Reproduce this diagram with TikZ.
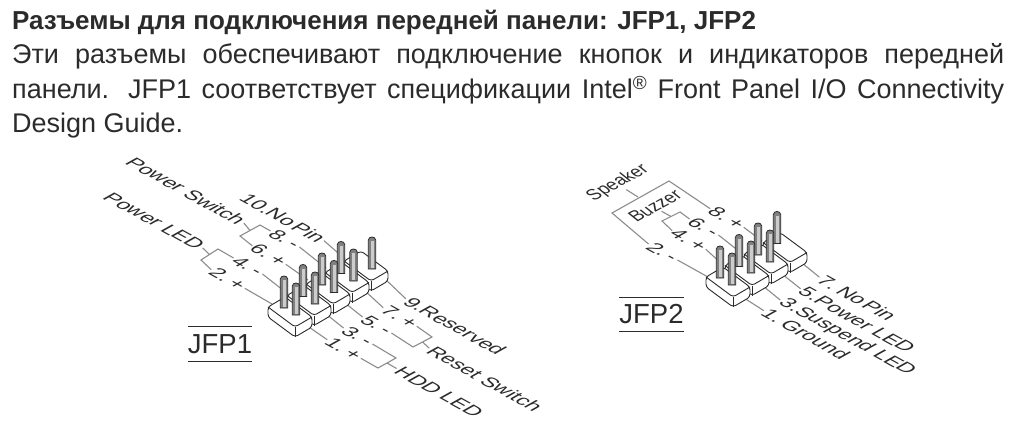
\documentclass[tikz,border=0pt]{standalone}
\usepackage{fontspec}
\setmainfont{Liberation Sans}
\usepackage{tikz}
\definecolor{inkdark}{HTML}{2B2B2B}
\definecolor{leadgray}{HTML}{8C8C8C}
\tikzset{
  lead/.style={draw=leadgray,line width=1.1pt},
  isodown/.style={cm={1.03,-0.57,0.93,0.52,(0,0)},inner sep=1.5pt,text=inkdark,font=\fontsize{18}{18}\selectfont},
  isoup/.style={cm={0.835,0.46,-0.82,0.66,(0,0)},inner sep=1.5pt,text=inkdark,font=\fontsize{18}{18}\selectfont},
  pinlabel/.style={isodown,execute at begin node={\spaceskip=2pt}},
  jfpname/.style={inner sep=0pt,minimum height=34pt,text=inkdark,font=\fontsize{27.5}{27.5}\selectfont},
}
% one housing of the header, origin at the foot of its rear pin
\newcommand{\hdrblock}[2]{
  \begin{scope}[shift={(#1,#2)}]
    \draw[inkdark,line width=.9pt,fill=white,rounded corners=3pt] (-16,-1) -- (-16,9) -- (11,29) -- (28,19) -- (28,9) -- (1,-11) -- cycle;
    \draw[inkdark,line width=.9pt,rounded corners=3pt] (-16,-1) -- (11,19) -- (28,9);
    \draw[inkdark,line width=.9pt] (11,19) -- (11,29);
  \end{scope}
}
\newcommand{\hdrpin}[2]{
  \begin{scope}[shift={(#1,#2)}]
    \draw[inkdark,line width=.8pt,fill=black!50] (-3.7,0) -- (-3.7,-29) .. controls (-3.5,-33) and (3.5,-33) .. (3.7,-29) -- (3.7,0) -- cycle;
    \draw[black!20,line width=3pt] (0,-1) -- (0,-28);
  \end{scope}
}
\begin{document}
\begin{tikzpicture}[x=1pt,y=-1pt]
\useasboundingbox (0,0) rectangle (1024,428);
\node[anchor=north west,inner sep=0pt,text=inkdark,font=\fontsize{26}{26}\selectfont\bfseries] (title) at (12,10) {Разъемы для подключения передней панели: JFP1, JFP2};
\node[anchor=north west,inner sep=0pt,text width=992pt,align=justify,text=inkdark,font=\fontsize{27}{34.5}\selectfont] (body) at (12,43.5) {Эти разъемы обеспечивают подключение кнопок и индикаторов передней\linebreak панели. JFP1 соответствует спецификации Intel\textsuperscript{®} Front Panel I/O Connectivity\linebreak Design Guide.};

% JFP1 labels
\node[isodown] (lPwrSw) at (186,191) {Power Switch};
\node[isodown] (lPwrLed) at (154,221) {Power LED};
\node[pinlabel] (lTen) at (283,218) {10.No Pin};
\node[pinlabel] (lEight) at (285,239) {8. -};
\node[pinlabel] (lSix) at (269,255) {6. +};
\node[pinlabel] (lFour) at (248,266) {4. -};
\node[pinlabel] (lTwo) at (228,279) {2. +};
\node[isodown] (lNine) at (455,326) {9.Reserved};
\node[pinlabel] (lSeven) at (400,317) {7. +};
\node[pinlabel] (lFive) at (377,325) {5. -};
\node[pinlabel] (lThree) at (358,336) {3. -};
\node[pinlabel] (lOne) at (344,349) {1. +};
\node[isodown] (lReset) at (485,379) {Reset Switch};
\node[isodown] (lHdd) at (439,392) {HDD LED};
\node[jfpname] (jfpA) at (220,344) {JFP1};
\draw[inkdark,line width=1pt] (jfpA.north west) -- (jfpA.north east);
\draw[inkdark,line width=1pt] (jfpA.south west) -- (jfpA.south east);

% JFP1 brackets and leads
\coordinate (swTop) at (260,225);
\coordinate (swLeft) at (240,236);
\coordinate (swMid) at (250,230.5);
\coordinate (ledTop) at (218,249);
\coordinate (ledLeft) at (201,260);
\coordinate (ledMid) at (209.5,254.5);
\coordinate (rsRight) at (432,337);
\coordinate (rsBottom) at (413,347);
\coordinate (rsMid) at (422.5,342);
\coordinate (hdRight) at (396,358);
\coordinate (hdBottom) at (378,368);
\coordinate (hdMid) at (387,363);
\coordinate (pTen) at (345,259);
\coordinate (pEight) at (326,268);
\coordinate (pSix) at (308,280);
\coordinate (pFour) at (288,294);
\coordinate (pTwo) at (272,304);
\coordinate (pNine) at (384,278);
\coordinate (pSeven) at (364,290);
\coordinate (pFive) at (345,303);
\coordinate (pThree) at (326,314);
\coordinate (pOne) at (306,325);
\draw[lead] (lPwrSw.east) -- (swMid);
\draw[lead] (lEight.west) -- (swTop) -- (swLeft) -- (lSix.west);
\draw[lead] (lPwrLed.east) -- (ledMid);
\draw[lead] (lFour.west) -- (ledTop) -- (ledLeft) -- (lTwo.west);
\draw[lead] (lSeven.east) -- (rsRight) -- (rsBottom) -- (lFive.east);
\draw[lead] (rsMid) -- (lReset.west);
\draw[lead] (lThree.east) -- (hdRight) -- (hdBottom) -- (lOne.east);
\draw[lead] (hdMid) -- (lHdd.west);
\draw[lead] (lTen.east) -- (pTen);
\draw[lead] (lEight.east) -- (pEight);
\draw[lead] (lSix.east) -- (pSix);
\draw[lead] (lFour.east) -- (pFour);
\draw[lead] (lTwo.east) -- (pTwo);
\draw[lead] (pNine) -- (lNine.west);
\draw[lead] (pSeven) -- (lSeven.west);
\draw[lead] (pFive) -- (lFive.west);
\draw[lead] (pThree) -- (lThree.west);
\draw[lead] (pOne) -- (lOne.west);

% JFP1 header
\hdrblock{360}{262}
\hdrpin{372}{269}
\hdrblock{341}{273.5}
\hdrpin{341}{273.5}
\hdrpin{353.5}{281}
\hdrblock{322}{285}
\hdrpin{322}{285}
\hdrpin{334}{292.5}
\hdrblock{303}{296.5}
\hdrpin{303}{296.5}
\hdrpin{315}{304}
\hdrblock{284}{308}
\hdrpin{284}{308}
\hdrpin{296}{315}

% JFP2 labels
\node[isoup] (lSpeaker) at (618,183) {Speaker};
\node[isoup] (lBuzzer) at (655,206) {Buzzer};
\node[pinlabel] (mEight) at (727,218) {8. +};
\node[pinlabel] (mSix) at (704,227) {6. -};
\node[pinlabel] (mFour) at (689,240) {4. +};
\node[pinlabel] (mTwo) at (663,252) {2. -};
\node[pinlabel] (mSeven) at (857,298) {7. No Pin};
\node[isodown] (mFive) at (857,320) {5.Power LED};
\node[isodown] (mThree) at (847,337) {3.Suspend LED};
\node[pinlabel] (mOne) at (806,334) {1. Ground};
\node[jfpname] (jfpB) at (651.5,314.5) {JFP2};
\draw[inkdark,line width=1pt] (jfpB.north west) -- (jfpB.north east);
\draw[inkdark,line width=1pt] (jfpB.south west) -- (jfpB.south east);

% JFP2 brackets and leads
\coordinate (spTop) at (669,181);
\coordinate (spLeft) at (612,213);
\coordinate (spMid) at (638,197);
\coordinate (bzTop) at (680,212);
\coordinate (bzLeft) at (662,221);
\coordinate (bzMid) at (671,216.5);
\coordinate (qEight) at (762,241);
\coordinate (qSix) at (740,252);
\coordinate (qFour) at (722,264);
\coordinate (qTwo) at (708,277);
\coordinate (qSeven) at (802,263);
\coordinate (qFive) at (782,274);
\coordinate (qThree) at (763,286);
\coordinate (qOne) at (744,298);
\draw[lead] (lSpeaker.south) -- (spMid);
\draw[lead] (mEight.west) -- (spTop) -- (spLeft) -- (mTwo.west);
\draw[lead] (lBuzzer.south) -- (bzMid);
\draw[lead] (mSix.west) -- (bzTop) -- (bzLeft) -- (mFour.west);
\draw[lead] (mEight.east) -- (qEight);
\draw[lead] (mSix.east) -- (qSix);
\draw[lead] (mFour.east) -- (qFour);
\draw[lead] (mTwo.east) -- (qTwo);
\draw[lead] (qSeven) -- (mSeven.west);
\draw[lead] (qFive) -- (mFive.west);
\draw[lead] (qThree) -- (mThree.west);
\draw[lead] (qOne) -- (mOne.west);

% JFP2 header
\hdrblock{779}{243.5}
\hdrpin{777}{243.5}
\hdrblock{760}{255}
\hdrpin{758}{255}
\hdrpin{770}{262}
\hdrblock{741}{266.5}
\hdrpin{739}{266.5}
\hdrpin{751}{273}
\hdrblock{722}{278}
\hdrpin{720}{278}
\hdrpin{732}{285}
\end{tikzpicture}
\end{document}
